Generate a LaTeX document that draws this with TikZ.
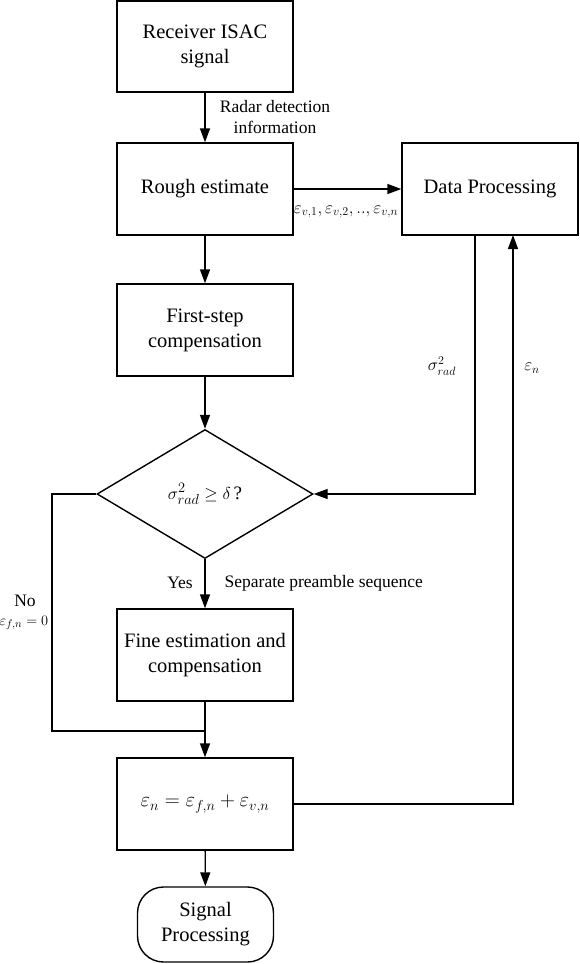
\documentclass[tikz,border=0pt]{standalone}
\usepackage{fontspec}
\setmainfont{Liberation Serif}
\usetikzlibrary{arrows.meta,shapes.geometric,calc}
\begin{document}
\begin{tikzpicture}[x=1pt,y=-1pt,
  line width=1.4pt,
  bx/.style={draw,rectangle,minimum width=176pt,minimum height=92pt,inner sep=0pt,align=center,font=\fontsize{20.5}{25}\selectfont},
  lbl/.style={inner sep=0pt,align=center,font=\fontsize{17.5}{21}\selectfont},
  arr/.style={-{Triangle[length=14pt,width=10pt]}}]
\useasboundingbox (0,0) rectangle (580,964);
\node[bx,minimum height=91pt] (b1) at (205,46.5) {Receiver ISAC\\signal};
\node[bx] (b2) at (205,189) {Rough estimate};
\node[bx] (dp) at (490,189) {Data Processing};
\node[bx] (b3) at (205,330) {First-step\\compensation};
\node[draw,diamond,aspect=1.674,minimum width=216pt,minimum height=129pt,inner sep=0pt,font=\fontsize{19}{25}\selectfont] (dia) at (205,494) {$\sigma_{rad}^{2}\geq\delta\,$?};
\node[bx] (fine) at (205,655) {Fine estimation and\\compensation};
\node[bx] (eps) at (205,804) {$\varepsilon_{n}=\varepsilon_{f,n}+\varepsilon_{v,n}$};
\node[draw,rectangle,rounded corners=26pt,minimum width=136pt,minimum height=75pt,inner sep=0pt,align=center,font=\fontsize{20.5}{25}\selectfont] (sp) at (205.5,924.5) {Signal\\Processing};

\coordinate (fbx) at (475,235);
\coordinate (epx) at (513,235);
\coordinate (nox) at (52,494);
\coordinate (mrg) at (205,731);

\draw[arr] (b1) -- (b2);
\draw[arr] (b2) -- (dp);
\draw[arr] (b2) -- (b3);
\draw[arr] (b3) -- (dia);
\draw[arr] (dia) -- (fine);
\draw[arr] (fine) -- (eps);
\draw[arr] (eps) -- (sp);
\draw[arr] (fbx) |- (dia.east);
\draw[arr] (eps.east) -| (epx);
\draw (dia.west) -- (nox) |- (mrg);

\node[lbl] (l1) at (275,117.5) {Radar detection\\information};
\node[lbl] (l2) at (346,212) {$\varepsilon_{v,1},\varepsilon_{v,2},..,\varepsilon_{v,n}$};
\node[lbl] (l3) at (442,366) {$\sigma_{rad}^{2}$};
\node[lbl] (l4) at (532,368) {$\varepsilon_{n}$};
\node[lbl] (l5) at (180,583) {Yes};
\node[lbl,anchor=west] (l6) at (224,583) {Separate preamble sequence};
\node[lbl] (l7) at (25,601) {No};
\node[lbl,anchor=east,font=\fontsize{15}{18}\selectfont] (l8) at (49,623) {$\varepsilon_{f,n}=0$};
\end{tikzpicture}
\end{document}
